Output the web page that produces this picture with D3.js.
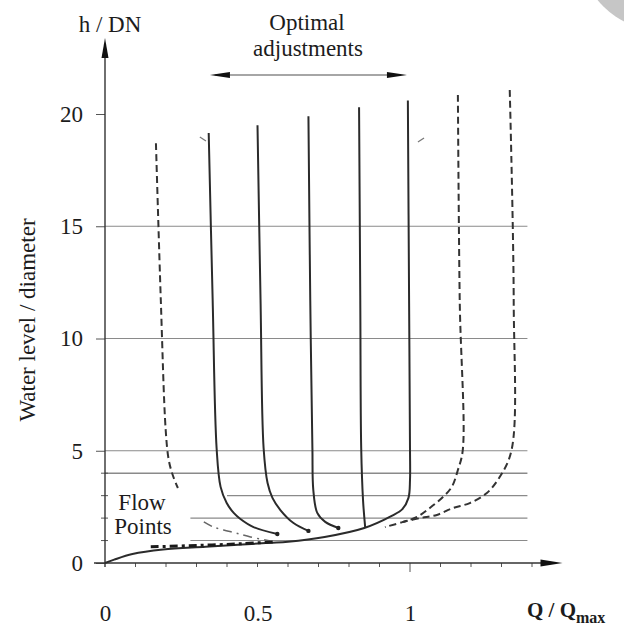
<!DOCTYPE html>
<html>
<head>
<meta charset="utf-8">
<script src="https://cdn.jsdelivr.net/npm/d3@7"></script>
<style>
body { margin: 0; background: #fff; }
text { font-family: "Liberation Serif", "Times New Roman", serif; fill: #1c1c1c; }
</style>
</head>
<body>
<div id="chart"></div>
<script>
// chart size
var svgWidth = 624;
var svgHeight = 630;

// axis ticks
var yTickValues = [0, 5, 10, 15, 20];
var yMinorTicks = [1, 2, 3, 4];
var xTickValues = [0, 0.5, 1];
var xTickLabels = ["0", "0.5", "1"];
var xMinorTicks = [0.1, 0.2, 0.3, 0.4, 0.6, 0.7, 0.8, 0.9, 1.1, 1.2, 1.3, 1.4];

// horizontal grid lines (h / DN) and the Q / Qmax where each one starts
var gridLevels = [1, 2, 3, 4, 5, 10, 15];
var gridFrom = [0.28, 0.28, 0.4, 0, 0, 0, 0];
var gridTo = 1.385;

// curves, [Q / Qmax, h / DN]
var curveA = [[0.34, 19.15], [0.353, 11.7], [0.366, 5.1], [0.379, 3.39], [0.399, 2.67], [0.422, 2.23], [0.444, 1.96], [0.487, 1.6], [0.565, 1.29]];
var curveB = [[0.5, 19.5], [0.51, 11.7], [0.52, 5.12], [0.533, 3.56], [0.549, 2.9], [0.575, 2.36], [0.618, 1.78], [0.667, 1.43]];
var curveC = [[0.667, 19.9], [0.673, 11.7], [0.68, 5.12], [0.683, 3.25], [0.696, 2.23], [0.722, 1.83], [0.765, 1.56]];
var curveD = [[0.833, 20.3], [0.837, 11.7], [0.84, 5.12], [0.846, 2.8], [0.853, 1.6]];
// the right solid curve, running down into the flow line to the origin
var curveE = [[0.993, 20.6], [0.997, 11.7], [1.0, 5.1], [1.0, 3.7], [0.995, 2.9], [0.975, 2.4], [0.94, 2.1], [0.85, 1.56], [0.72, 1.16], [0.6, 0.95], [0.54, 0.9], [0.45, 0.82], [0.33, 0.72], [0.19, 0.6], [0.09, 0.4], [0.03, 0.15], [0, 0]];

var dashedLeftTop = [[0.167, 18.7], [0.183, 11.7], [0.199, 5.92], [0.209, 4.59], [0.222, 3.92], [0.239, 3.34]];
var dashedLeftBottom = [[0.324, 1.83], [0.356, 1.6], [0.389, 1.47], [0.428, 1.34], [0.477, 1.16], [0.542, 0.98]];
var dashedRight1 = [[1.157, 20.85], [1.163, 11.7], [1.173, 5.03], [1.157, 4.14], [1.137, 3.39], [1.108, 2.94], [1.065, 2.45], [1.023, 2.05], [0.977, 1.83], [0.918, 1.6]];
var dashedRight2 = [[1.327, 21.07], [1.34, 11.7], [1.333, 5.03], [1.294, 3.83], [1.252, 3.12], [1.196, 2.67], [1.141, 2.45], [1.088, 2.14], [1.033, 2.0], [0.977, 1.83]];
var flowPoints = [[0.15, 0.72], [0.3, 0.78], [0.45, 0.86], [0.55, 0.94]];

// two little pencil strokes near the tops of the curves
var strokeMarks = [[[0.311, 18.98], [0.331, 18.8]], [[1.026, 18.75], [1.046, 18.93]]];

var solidCurves = [curveA, curveB, curveC, curveD, curveE];
var dashedCurves = [dashedLeftTop, dashedRight1, dashedRight2];

var svg = d3.select("#chart").append("svg")
  .attr("width", svgWidth)
  .attr("height", svgHeight);

var x = d3.scaleLinear().domain([0, 1]).range([105, 410]);
var y = d3.scaleLinear().domain([0, 20]).range([563, 114]);

var line = d3.line()
  .x(function(d) { return x(d[0]); })
  .y(function(d) { return y(d[1]); })
  .curve(d3.curveCatmullRom.alpha(0.5));

// scan shadow in the top right corner
svg.append("circle")
  .attr("cx", 660).attr("cy", -50).attr("r", 80)
  .attr("fill", "#c6c6c6");

// grid lines
svg.append("g").attr("id", "grid")
  .selectAll("line")
  .data(gridLevels)
  .enter().append("line")
  .attr("x1", function(d, i) { return x(gridFrom[i]); })
  .attr("x2", x(gridTo))
  .attr("y1", function(d) { return y(d); })
  .attr("y2", function(d) { return y(d); })
  .attr("stroke", "#8a8a8a")
  .attr("stroke-width", function(d) { return d == 4 ? 1.6 : 1.1; });

// y axis
var yAxis = d3.axisLeft(y)
  .tickValues(yTickValues)
  .tickSize(9)
  .tickPadding(13)
  .tickFormat(d3.format("d"));
var gy = svg.append("g").attr("transform", "translate(" + x(0) + ",0)").call(yAxis);
gy.select(".domain").remove();
gy.selectAll("line").attr("stroke", "#555");
gy.selectAll("text").style("font-size", "23px").attr("fill", "#1c1c1c");

gy.selectAll(".minor")
  .data(yMinorTicks)
  .enter().append("line")
  .attr("class", "minor")
  .attr("x1", -4).attr("x2", 3)
  .attr("y1", function(d) { return y(d); })
  .attr("y2", function(d) { return y(d); })
  .attr("stroke", "#555");

// x axis
var xAxis = d3.axisBottom(x)
  .tickValues(xTickValues)
  .tickSize(0)
  .tickPadding(42)
  .tickFormat(function(d, i) { return xTickLabels[i]; });
var gx = svg.append("g").attr("transform", "translate(0," + y(0) + ")").call(xAxis);
gx.select(".domain").remove();
gx.selectAll("text").style("font-size", "23px").attr("fill", "#1c1c1c");

gx.selectAll(".minor")
  .data(xMinorTicks.concat([0.5, 1]))
  .enter().append("line")
  .attr("class", "minor")
  .attr("x1", function(d) { return x(d); })
  .attr("x2", function(d) { return x(d); })
  .attr("y1", 0)
  .attr("y2", function(d) { return d == 1 ? 9 : 4; })
  .attr("stroke", "#555");

// axis lines with arrow heads
var axisColor = "#333";
svg.append("line")
  .attr("x1", x(0)).attr("x2", x(0))
  .attr("y1", y(0) + 4).attr("y2", 50)
  .attr("stroke", axisColor).attr("stroke-width", 1.4);
svg.append("path")
  .attr("d", "M" + x(0) + ",38 L" + (x(0) - 3.5) + ",58 L" + (x(0) + 3.5) + ",58 Z")
  .attr("fill", "#111");

svg.append("line")
  .attr("x1", 94).attr("x2", x(1.46))
  .attr("y1", y(0)).attr("y2", y(0))
  .attr("stroke", axisColor).attr("stroke-width", 1.4);
svg.append("path")
  .attr("d", "M" + x(1.5) + "," + y(0) + " L" + (x(1.5) - 22) + "," + (y(0) - 3.5) + " L" + (x(1.5) - 22) + "," + (y(0) + 3.5) + " Z")
  .attr("fill", "#111");

// curves
svg.append("g").attr("id", "solid")
  .selectAll("path")
  .data(solidCurves)
  .enter().append("path")
  .attr("d", line)
  .attr("fill", "none")
  .attr("stroke", "#2b2b2b")
  .attr("stroke-width", 2);

svg.append("g").attr("id", "dashed")
  .selectAll("path")
  .data(dashedCurves)
  .enter().append("path")
  .attr("d", line)
  .attr("fill", "none")
  .attr("stroke", "#333")
  .attr("stroke-width", 2)
  .attr("stroke-dasharray", "7,4");

svg.append("path")
  .attr("d", line(dashedLeftBottom))
  .attr("fill", "none")
  .attr("stroke", "#666")
  .attr("stroke-width", 1.5)
  .attr("stroke-dasharray", "9,5,2,5");

svg.append("path")
  .attr("d", line(flowPoints))
  .attr("fill", "none")
  .attr("stroke", "#1a1a1a")
  .attr("stroke-width", 3)
  .attr("stroke-dasharray", "8,4,3,4");

svg.append("g")
  .selectAll("path")
  .data(strokeMarks)
  .enter().append("path")
  .attr("d", d3.line().x(function(d) { return x(d[0]); }).y(function(d) { return y(d[1]); }))
  .attr("stroke", "#777")
  .attr("stroke-width", 1.2);

// end points of the curves
svg.append("g")
  .selectAll("circle")
  .data([curveA, curveB, curveC])
  .enter().append("circle")
  .attr("cx", function(d) { return x(d[d.length - 1][0]); })
  .attr("cy", function(d) { return y(d[d.length - 1][1]); })
  .attr("r", 2.2)
  .attr("fill", "#222");

// labels
svg.append("text")
  .attr("x", x(0) + 5).attr("y", 32)
  .attr("text-anchor", "middle")
  .style("font-size", "23px")
  .text("h / DN");

svg.append("text")
  .attr("transform", "translate(35,320) rotate(-90)")
  .attr("text-anchor", "middle")
  .style("font-size", "23px")
  .text("Water level / diameter");

var qLabel = svg.append("text")
  .attr("x", 527).attr("y", 617)
  .style("font-size", "21px")
  .style("font-weight", "bold");
qLabel.append("tspan").text("Q / Q");
qLabel.append("tspan").attr("dy", 6).style("font-size", "16px").text("max");

svg.append("text")
  .attr("x", 307).attr("y", 30)
  .attr("text-anchor", "middle")
  .style("font-size", "23px")
  .text("Optimal");
svg.append("text")
  .attr("x", 308).attr("y", 56)
  .attr("text-anchor", "middle")
  .style("font-size", "23px")
  .text("adjustments");

// double arrow under the title
var arrowY = 75;
svg.append("line")
  .attr("x1", x(0.36)).attr("x2", x(0.97))
  .attr("y1", arrowY).attr("y2", arrowY)
  .attr("stroke", "#888").attr("stroke-width", 1.3);
svg.append("path")
  .attr("d", "M" + x(0.344) + "," + arrowY + " L" + (x(0.344) + 20) + "," + (arrowY - 3) + " L" + (x(0.344) + 20) + "," + (arrowY + 3) + " Z")
  .attr("fill", "#111");
svg.append("path")
  .attr("d", "M" + x(0.99) + "," + arrowY + " L" + (x(0.99) - 20) + "," + (arrowY - 3) + " L" + (x(0.99) - 20) + "," + (arrowY + 3) + " Z")
  .attr("fill", "#111");

svg.append("text")
  .attr("x", 142).attr("y", 510)
  .attr("text-anchor", "middle")
  .style("font-size", "23px")
  .text("Flow");
svg.append("text")
  .attr("x", 143).attr("y", 534)
  .attr("text-anchor", "middle")
  .style("font-size", "23px")
  .text("Points");
</script>
</body>
</html>
